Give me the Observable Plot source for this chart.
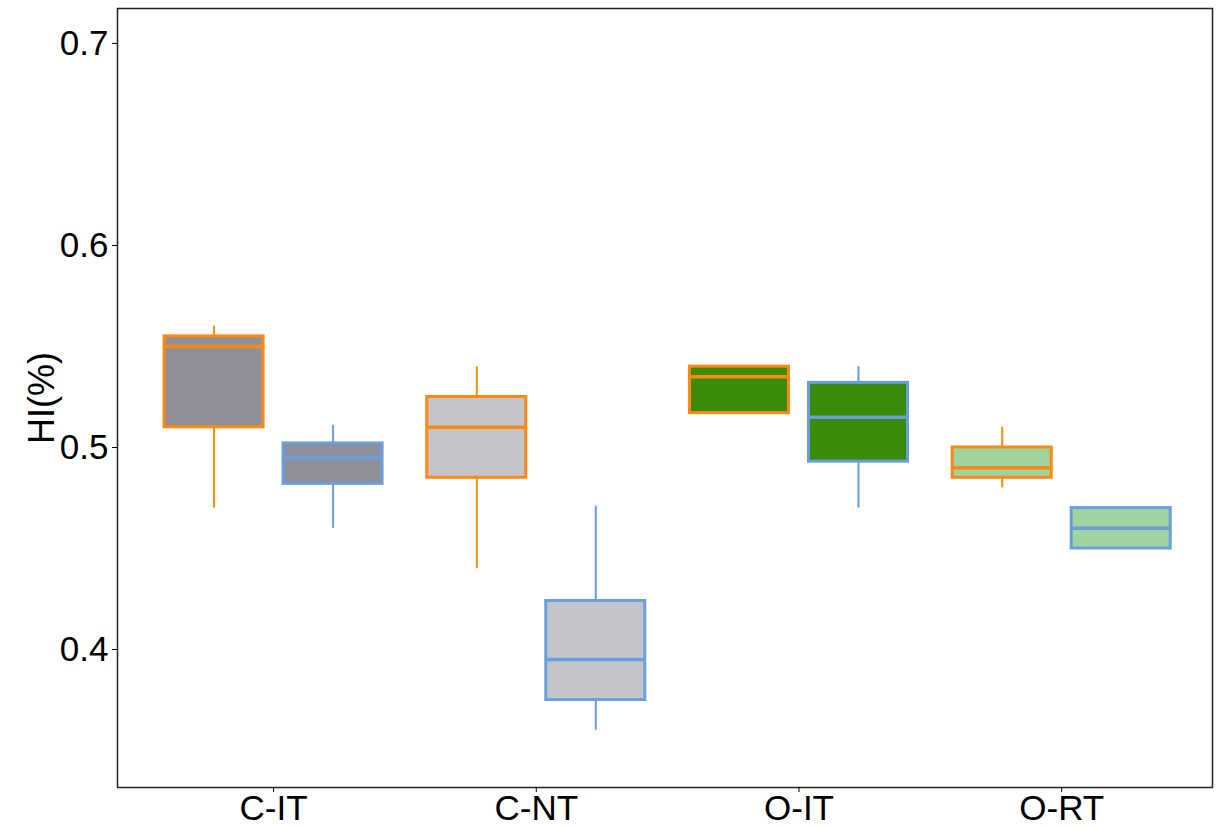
<!DOCTYPE html>
<html>
<head>
<meta charset="utf-8">
<script src="https://cdn.jsdelivr.net/npm/d3@7"></script>
<script src="https://cdn.jsdelivr.net/npm/@observablehq/plot@0.6"></script>
<style>
  html, body { margin: 0; padding: 0; background: #fff; }
  #chart { width: 1224px; height: 829px; }
</style>
</head>
<body>
<div id="chart"></div>
<script>
// Categories and tick labels
const categories = ["C-IT", "C-NT", "O-IT", "O-RT"];
const yTicks = [0.4, 0.5, 0.6, 0.7];

// Series 1 (orange outline) five-number summaries per category
const s1Min = [0.47, 0.44, 0.517, 0.48];
const s1Q1  = [0.51, 0.485, 0.517, 0.485];
const s1Med = [0.55, 0.51, 0.535, 0.49];
const s1Q3  = [0.555, 0.525, 0.54, 0.50];
const s1Max = [0.56, 0.54, 0.54, 0.51];

// Series 2 (blue outline)
const s2Min = [0.46, 0.36, 0.47, 0.45];
const s2Q1  = [0.482, 0.375, 0.493, 0.45];
const s2Med = [0.495, 0.395, 0.515, 0.46];
const s2Q3  = [0.502, 0.424, 0.532, 0.47];
const s2Max = [0.511, 0.471, 0.54, 0.47];

// Styles
const boxFill = ["#8e8f98", "#c3c5cb", "#3a8b08", "#9fd3a0"];
const seriesStroke = ["#ff8a12", "#6a9edc"];
const seriesOffset = [-0.2265, 0.2265];
const boxHalf = 0.1885;

const rows = [];
categories.forEach((c, i) => {
  [[s1Min, s1Q1, s1Med, s1Q3, s1Max], [s2Min, s2Q1, s2Med, s2Q3, s2Max]].forEach((s, k) => {
    const xc = i + seriesOffset[k];
    rows.push({
      cat: c, series: k, xc, x1: xc - boxHalf, x2: xc + boxHalf,
      min: s[0][i], q1: s[1][i], med: s[2][i], q3: s[3][i], max: s[4][i],
      fill: boxFill[i], stroke: seriesStroke[k]
    });
  });
});

const chart = Plot.plot({
  width: 1224,
  height: 829,
  marginTop: 8,
  marginBottom: 42,
  marginLeft: 117,
  marginRight: 12,
  style: { fontFamily: "'Liberation Sans', Arial, sans-serif", background: "#fff", color: "#000" },
  x: { type: "linear", domain: [-0.594, 3.574] },
  y: { type: "linear", domain: [0.3317, 0.7173] },
  marks: [
    // whiskers
    Plot.ruleX(rows, { x: "xc", y1: "q3", y2: "max", stroke: "stroke", strokeWidth: 2 }),
    Plot.ruleX(rows, { x: "xc", y1: "min", y2: "q1", stroke: "stroke", strokeWidth: 2 }),
    // boxes
    Plot.rect(rows, { x1: "x1", x2: "x2", y1: "q1", y2: "q3", fill: "fill", stroke: "stroke", strokeWidth: 3, insetLeft: 0, insetRight: 0 }),
    // medians
    Plot.ruleY(rows, { x1: "x1", x2: "x2", y: "med", stroke: "stroke", strokeWidth: 3.5 }),
    Plot.frame({ stroke: "#222", strokeWidth: 1.5 }),
    Plot.axisY({ ticks: yTicks, tickFormat: d => d.toFixed(1), tickSize: 5, tickPadding: 4, fontSize: 35, label: null }),
    Plot.axisX({ ticks: [0, 1, 2, 3], tickFormat: i => categories[i], tickSize: 5, tickPadding: 3, fontSize: 35, label: null }),
    Plot.text(["HI(%)"], { frameAnchor: "left", dx: -75, rotate: -90, textAnchor: "middle", lineAnchor: "middle", fontSize: 36, fill: "#000" })
  ]
});
document.getElementById("chart").appendChild(chart);
</script>
</body>
</html>
